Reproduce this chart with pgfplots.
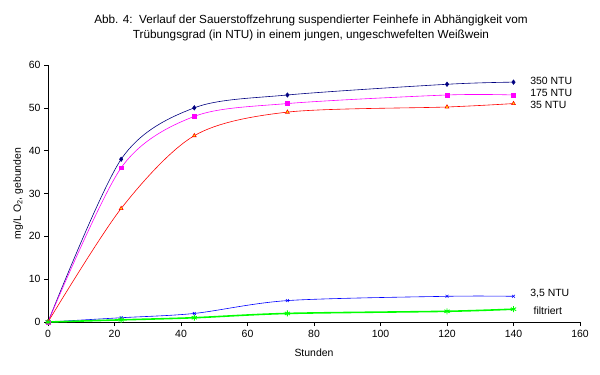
\documentclass[border=0pt]{standalone}
\usepackage{pgfplots}
\pgfplotsset{compat=1.18}
\usepackage{fontspec}
\setmainfont{Liberation Sans}
\definecolor{navyc}{HTML}{000080}
\definecolor{magc}{HTML}{FF00FF}
\definecolor{redc}{HTML}{FF0000}
\definecolor{bluec}{HTML}{0000FF}
\definecolor{greenc}{HTML}{00FF00}
\begin{document}
\begin{tikzpicture}[x=1bp,y=1bp]
\path[use as bounding box] (0,0) rectangle (600,374);
\node[font=\fontsize{11.8}{15}\selectfont, align=center] at (311,346.5) {Abb. 4:\ \ Verlauf der Sauerstoffzehrung suspendierter Feinhefe in Abhängigkeit vom\\Trübungsgrad (in NTU) in einem jungen, ungeschwefelten Weißwein};
\begin{axis}[
  at={(48bp,52bp)}, anchor=south west,
  scale only axis, width=532bp, height=257bp,
  xmin=0, xmax=160, ymin=0, ymax=60,
  xtick={0,20,...,160}, ytick={0,10,...,60},
  axis lines=left, axis line style={-, line width=0.8pt},
  tick style={black, line width=0.6pt},
  tick align=outside, major tick length=4bp,
  ticklabel style={font=\fontsize{10.5}{12}\selectfont},
  xticklabel style={yshift=-1bp},
  /pgf/number format/assume math mode=true,
  xlabel={Stunden}, ylabel={mg/L O\textsubscript{2}, gebunden},
  label style={font=\fontsize{10.5}{12}\selectfont},
  xlabel style={yshift=-4bp},
  ylabel style={yshift=-1bp},
  clip=false,
  every axis plot/.append style={smooth, tension=0.5, line width=0.6pt},
]
\addplot[color=navyc, mark=diamond*, mark size=2.2pt, mark options={fill=navyc}] coordinates {(0,0) (22,38) (44,50) (72,53) (120,55.5) (140,56)};
\addplot[color=magc, mark=square*, mark size=2pt, mark options={fill=magc}] coordinates {(0,0) (22,36) (44,48) (72,51) (120,53) (140,53)};
\addplot[color=redc, mark=triangle*, mark size=2.2pt, mark options={fill=yellow, draw=redc}] coordinates {(0,0) (22,26.5) (44,43.5) (72,49) (120,50.2) (140,51)};
\addplot[color=bluec, mark=x, mark size=2pt] coordinates {(0,0) (22,1) (44,2) (72,5) (120,6) (140,6)};
\addplot[color=greenc, line width=1.6pt, mark=asterisk, mark size=3pt, mark options={line width=0.9pt}] coordinates {(0,0) (22,0.5) (44,1) (72,2) (120,2.5) (140,3)};
\node[anchor=west, font=\fontsize{10.5}{12}\selectfont] at (axis cs:144,56.2) {350 NTU};
\node[anchor=west, font=\fontsize{10.5}{12}\selectfont] at (axis cs:144,53.5) {175 NTU};
\node[anchor=west, font=\fontsize{10.5}{12}\selectfont] at (axis cs:144,50.8) {35 NTU};
\node[anchor=west, font=\fontsize{10.5}{12}\selectfont] at (axis cs:144,6.6) {3,5 NTU};
\node[anchor=west, font=\fontsize{10.5}{12}\selectfont] at (axis cs:145,2.6) {filtriert};
\end{axis}
\end{tikzpicture}
\end{document}
